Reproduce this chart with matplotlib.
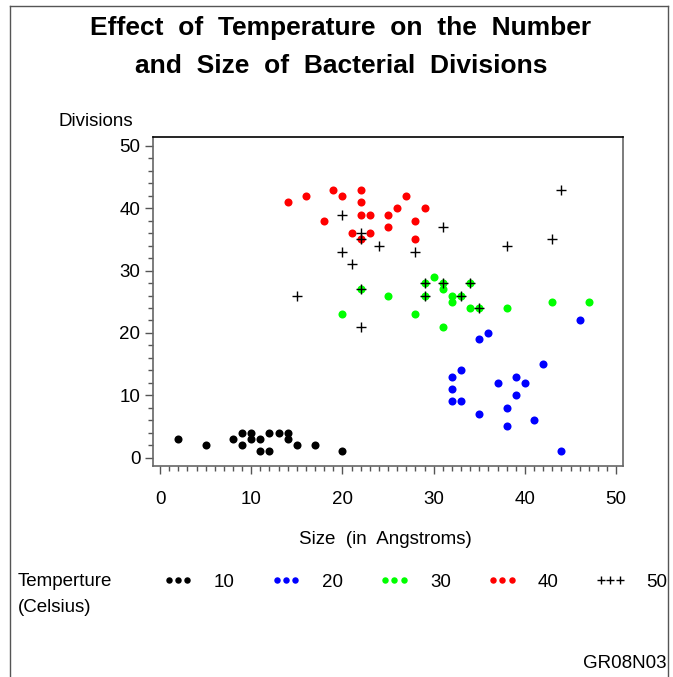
import matplotlib
matplotlib.use("Agg")
import matplotlib.pyplot as plt
from matplotlib.lines import Line2D
from matplotlib.ticker import MultipleLocator

plt.rcParams['font.family'] = ['Liberation Sans', 'DejaVu Sans']

# Size (Angstroms) and number of divisions for each temperature group
temps = ['10', '20', '30', '40', '50']

size_10 = [2, 5, 8, 9, 9, 10, 10, 11, 11, 12, 12, 13, 14, 14, 15, 17, 20]
div_10 = [3, 2, 3, 4, 2, 4, 3, 3, 1, 4, 1, 4, 4, 3, 2, 2, 1]

size_20 = [35, 36, 46, 42, 33, 32, 32, 32, 33, 37, 39, 40, 39, 35, 38, 38, 41, 44]
div_20 = [19, 20, 22, 15, 14, 13, 11, 9, 9, 12, 13, 12, 10, 7, 8, 5, 6, 1]

size_30 = [20, 22, 25, 28, 29, 29, 30, 31, 31, 31, 32, 32, 33, 34, 34, 35, 38, 43, 47]
div_30 = [23, 27, 26, 23, 28, 26, 29, 28, 27, 21, 26, 25, 26, 28, 24, 24, 24, 25, 25]

size_40 = [14, 16, 19, 20, 22, 22, 22, 23, 25, 26, 27, 29, 28, 18, 21, 23, 22, 25, 28]
div_40 = [41, 42, 43, 42, 43, 41, 39, 39, 39, 40, 42, 40, 38, 38, 36, 36, 35, 37, 35]

size_50 = [20, 22, 22, 24, 20, 21, 28, 31, 15, 22, 22, 38, 43, 44, 29, 29, 31, 33, 34, 35]
div_50 = [39, 36, 35, 34, 33, 31, 33, 37, 26, 27, 21, 34, 35, 43, 28, 26, 28, 26, 28, 24]

x_ticks = [0, 10, 20, 30, 40, 50]
y_ticks = [0, 10, 20, 30, 40, 50]

W, H = 673, 677
fig = plt.figure(figsize=(W / 100, H / 100), dpi=100)

# outer page border
fig.add_artist(Line2D([10 / W, 10 / W], [0, 1 - 6 / H], color='#555555', lw=1.0))
fig.add_artist(Line2D([10 / W, 668 / W], [1 - 6 / H, 1 - 6 / H], color='#555555', lw=1.0))
fig.add_artist(Line2D([668 / W, 668 / W], [0, 1 - 6 / H], color='#555555', lw=1.0))

ax = fig.add_axes([153 / W, 1 - 466 / H, (623 - 153) / W, (466 - 137.5) / H])

groups = [
    (size_10, div_10, 'black', 'o'),
    (size_20, div_20, '#0000ff', 'o'),
    (size_30, div_30, '#00ff00', 'o'),
    (size_40, div_40, '#ff0000', 'o'),
    (size_50, div_50, 'black', '+'),
]
handles = []
for (xs, ys, col, mk), lab in zip(groups, temps):
    if mk == 'o':
        h, = ax.plot(xs, ys, linestyle='none', marker='o', markersize=5.8,
                     color=col, markeredgewidth=0, label=lab)
    else:
        h, = ax.plot(xs, ys, linestyle='none', marker='+', markersize=7,
                     color=col, markeredgewidth=1.0, label=lab)
    handles.append(h)

ax.set_xlim(-0.77, 50.75)
ax.set_ylim(-1.36, 51.36)
ax.set_xticks(x_ticks)
ax.set_yticks(y_ticks)
ax.xaxis.set_minor_locator(MultipleLocator(1))
ax.yaxis.set_minor_locator(MultipleLocator(2))
ax.tick_params(axis='both', which='major', direction='out', length=6, width=1,
               color='#555555', labelsize=13.5, labelcolor='black')
ax.tick_params(axis='both', which='minor', direction='out', length=3.5, width=1,
               color='#555555')
ax.tick_params(axis='x', which='major', pad=12)
ax.tick_params(axis='y', which='major', pad=3)
for side in ['left', 'bottom', 'right']:
    ax.spines[side].set_color('#666666')
    ax.spines[side].set_linewidth(1.2)
ax.spines['top'].set_color('black')
ax.spines['top'].set_linewidth(1.2)

# titles and labels
fig.text(341 / W, 1 - 28 / H, 'Effect  of  Temperature  on  the  Number',
         ha='center', va='center', fontsize=19, fontweight='bold')
fig.text(341 / W, 1 - 66 / H, 'and  Size  of  Bacterial  Divisions',
         ha='center', va='center', fontsize=19, fontweight='bold')
fig.text(59 / W, 1 - 121 / H, 'Divisions', ha='left', va='center', fontsize=13.5)
fig.text(385 / W, 1 - 540 / H, 'Size  (in  Angstroms)', ha='center', va='center',
         fontsize=13.5)

# legend
fig.text(18 / W, 1 - 582 / H, 'Temperture', ha='left', va='center', fontsize=13.5)
fig.text(18 / W, 1 - 607 / H, '(Celsius)', ha='left', va='center', fontsize=13.5)
fig.legend(handles, temps, ncol=5, numpoints=3, frameon=False, fontsize=13.5,
           markerscale=0.8, handlelength=1.6, handletextpad=1.1,
           columnspacing=1.95, borderpad=0, borderaxespad=0,
           loc='center left', bbox_to_anchor=(163 / W, 1 - 582 / H))

fig.text(667 / W, 1 - 663 / H, 'GR08N03', ha='right', va='center', fontsize=13.5)

fig.savefig('out.png', dpi=100)
